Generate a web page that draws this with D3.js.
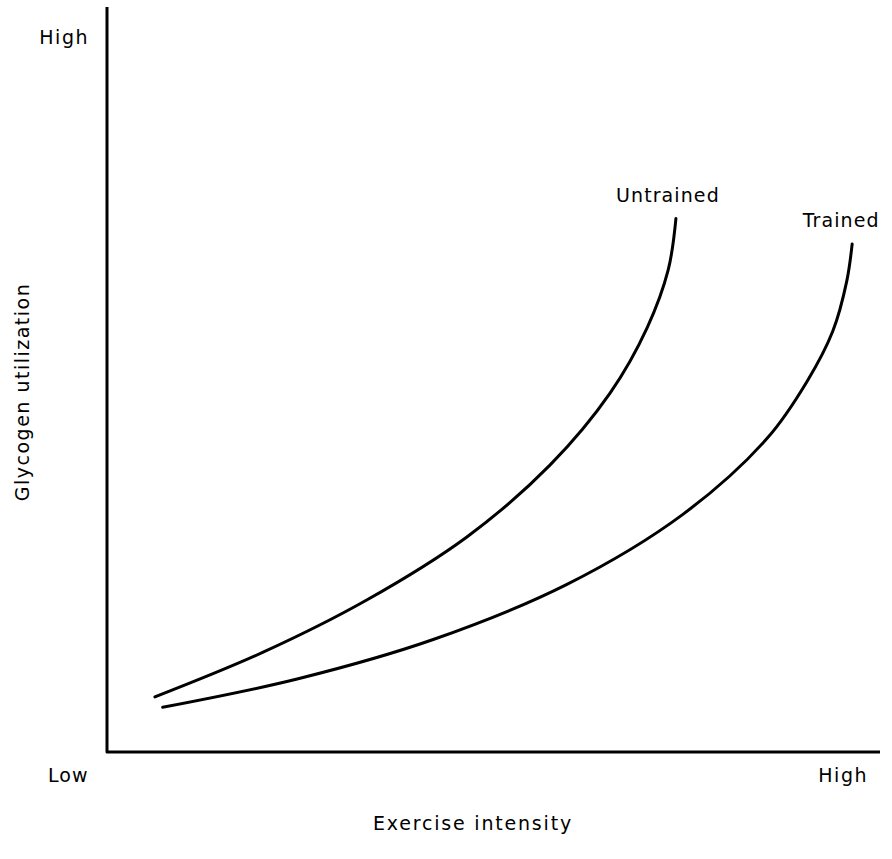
<!DOCTYPE html>
<html>
<head>
<meta charset="utf-8">
<script src="https://cdn.jsdelivr.net/npm/d3@7"></script>
<style>
  html, body { margin: 0; padding: 0; background: #fff; }
  svg text { font-family: "DejaVu Sans", Verdana, sans-serif; fill: #000; }
</style>
</head>
<body>
<script>
// Data (arbitrary 0-100 units for exercise intensity and glycogen utilization)
const untrainedX = [6.2, 20.2, 33.6, 46.6, 57.3, 65.1, 69.9, 72.6, 73.6];
const untrainedY = [7.4, 13.4, 20.4, 28.9, 38.5, 48.2, 57.0, 64.7, 71.6];
const trainedX = [7.2, 24.6, 42.2, 59.5, 74.5, 85.4, 90.6, 93.9, 95.7, 96.4];
const trainedY = [6.0, 9.8, 15.1, 22.5, 31.9, 42.1, 49.8, 56.5, 63.2, 68.2];
const seriesNames = ["Untrained", "Trained"];
const xTickLabels = ["Low", "High"];
const yTickLabels = ["High"];
const xTitle = "Exercise intensity";
const yTitle = "Glycogen utilization";

const W = 892, H = 859;
const svg = d3.select("body").append("svg").attr("width", W).attr("height", H);

const x = d3.scaleLinear().domain([0, 100]).range([107, 880]);
const y = d3.scaleLinear().domain([0, 100]).range([752, 7]);

// axes
svg.append("path")
  .attr("d", `M${x(0)},${y(100)} L${x(0)},${y(0)} L${x(100)},${y(0)}`)
  .attr("fill", "none").attr("stroke", "#000").attr("stroke-width", 3)
  .attr("stroke-linejoin", "round");

const line = d3.line().x(d => x(d[0])).y(d => y(d[1])).curve(d3.curveCatmullRom.alpha(0.5));

const series = [
  { name: seriesNames[0], pts: untrainedX.map((v, i) => [v, untrainedY[i]]) },
  { name: seriesNames[1], pts: trainedX.map((v, i) => [v, trainedY[i]]) }
];

series.forEach(s => {
  svg.append("path").attr("d", line(s.pts))
    .attr("fill", "none").attr("stroke", "#000").attr("stroke-width", 3)
    .attr("stroke-linecap", "round");
});

// series labels
const lastU = series[0].pts[series[0].pts.length - 1];
const lastT = series[1].pts[series[1].pts.length - 1];
svg.append("text").attr("x", x(lastU[0]) - 8).attr("y", y(lastU[1]) - 17)
  .attr("text-anchor", "middle").attr("font-size", 19).attr("letter-spacing", 1.1).text(series[0].name);
svg.append("text").attr("x", x(lastT[0]) - 11).attr("y", y(lastT[1]) - 17)
  .attr("text-anchor", "middle").attr("font-size", 19).attr("letter-spacing", 1.1).text(series[1].name);

// tick labels
svg.append("text").attr("x", 48).attr("y", 782).attr("font-size", 19).attr("letter-spacing", 1).text(xTickLabels[0]);
svg.append("text").attr("x", 868).attr("y", 782).attr("text-anchor", "end").attr("font-size", 19).attr("letter-spacing", 1.5).text(xTickLabels[1]);
svg.append("text").attr("x", 89).attr("y", 44).attr("text-anchor", "end").attr("font-size", 19).attr("letter-spacing", 1.5).text(yTickLabels[0]);

// axis titles
svg.append("text").attr("x", 473).attr("y", 830).attr("text-anchor", "middle")
  .attr("font-size", 19).attr("letter-spacing", 1.8).text(xTitle);
svg.append("text").attr("transform", "translate(29,392) rotate(-90)")
  .attr("text-anchor", "middle").attr("font-size", 19).attr("letter-spacing", 1.5).text(yTitle);
</script>
</body>
</html>
